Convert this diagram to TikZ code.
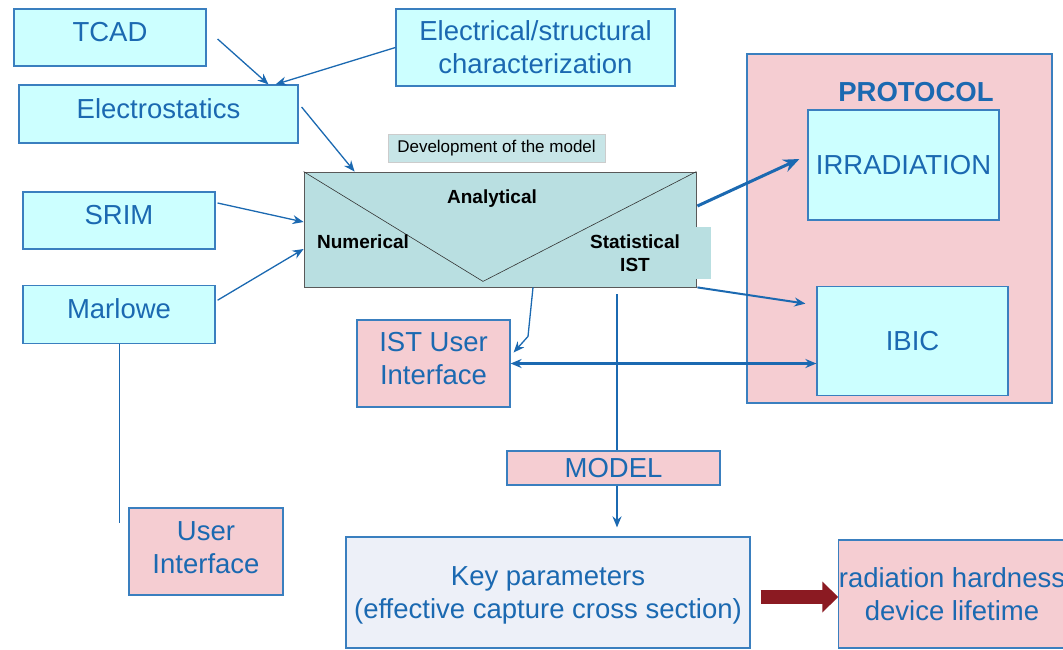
\documentclass[tikz,border=0pt]{standalone}
\usepackage{fontspec}
\setmainfont{Liberation Sans}
\usetikzlibrary{arrows,arrows.meta,positioning}

\definecolor{ink}{HTML}{1B69B1}
\definecolor{frame}{HTML}{3A7FBF}
\definecolor{cyanfill}{HTML}{CCFFFF}
\definecolor{pinkfill}{HTML}{F5CDD2}
\definecolor{tealfill}{HTML}{B9DFE1}
\definecolor{keyfill}{HTML}{EDF0F8}
\definecolor{darkred}{HTML}{8B1A22}

\begin{document}
\begin{tikzpicture}[x=1pt,y=-1pt,>={Stealth[length=11pt,width=9pt]},
    blk/.style={draw=frame,line width=1.2pt,text=ink,inner sep=0pt,align=center,
      font=\fontsize{27.5}{33}\selectfont},
    sw/.style={blk,fill=cyanfill},
    ui/.style={blk,fill=pinkfill},
    high/.style={text depth=#1},
    lbl/.style={font=\fontsize{19}{23}\selectfont\bfseries},
    flow/.style={->,draw=ink,line width=1.3pt}]

\useasboundingbox (0,0) rectangle (1063,649);

% simulation inputs
\node[sw,high=11pt,minimum width=192,minimum height=57] (tcad) at (110,37.5) {TCAD};

\node[sw,minimum width=279,minimum height=77] (charac) at (535.5,47.5) {Electrical/structural\\characterization};

\node[sw,high=10pt,minimum width=279,minimum height=58] (elstat) at (158.5,114) {Electrostatics};

\node[sw,high=11pt,minimum width=192,minimum height=57] (srim) at (119,220.5) {SRIM};

\node[sw,high=12pt,minimum width=192,minimum height=58] (marl) [below=35pt of srim] {Marlowe};

% model box
\node[draw=gray!70!black,fill=tealfill,line width=0.8pt,minimum width=392,minimum height=115,inner sep=0pt] (dev) at (500,229.5) {};
\fill[tealfill] ([yshift=2.5]dev.east) rectangle ++(15,52);
\coordinate (vtx) at ([xshift=-17,yshift=6]dev.south);
\draw[gray!40!black,line width=0.6pt] (dev.north west) -- (vtx) -- (dev.north east);

\node[lbl] (anal) at (492,199) {Analytical};
\node[lbl] (num) at (363,242) {Numerical};
\node[lbl,align=center] (stat) at (635,253.5) {Statistical\\IST};

\node[fill=tealfill!80!white,draw=gray!40,inner sep=0pt,minimum width=217,minimum height=28,
      font=\fontsize{17}{20}\selectfont] (devlbl) [above=9pt of dev,xshift=-3.5pt] {Development of the model};

% protocol
\node[draw=frame,line width=1.2pt,fill=pinkfill,minimum width=305,minimum height=349,inner sep=0pt] (proto) at (899.5,228.5) {};
\node[text=ink,font=\fontsize{27.5}{33}\selectfont\bfseries] (prottl) at (916,92) {PROTOCOL};

\node[sw,minimum width=191,minimum height=110] (irr) at (903.5,165) {IRRADIATION};

\node[sw,minimum width=191,minimum height=109] (ibic) [below=65pt of irr,xshift=9pt] {IBIC};

% outputs
\node[ui,high=10pt,minimum width=153,minimum height=87] (istui) at (433.5,363.5) {IST User\\Interface};

\node[ui,high=8pt,minimum width=154,minimum height=87] (ui) at (206,551.5) {User\\Interface};

\node[ui,minimum width=213,minimum height=34] (model) at (613.5,468) {MODEL};

\node[blk,high=-2pt,fill=keyfill,minimum width=404,minimum height=111] (keypar) at (548,592.5) {Key parameters\\(effective capture cross section)};

\node[ui,minimum width=226,minimum height=108] (hard) at (952,594) {radiation hardness\\device lifetime};

% connections
\draw[flow] ([xshift=11,yshift=-1.5]tcad.east) -- ([xshift=110]elstat.north);
\draw[flow] (charac.west) -- ([xshift=117]elstat.north);
\draw[flow] ([xshift=3,yshift=7]elstat.east) -- ([xshift=51]dev.north west);
\draw[flow] ([xshift=2,yshift=17.5]srim.east) -- ([yshift=7.5]dev.west);
\draw[flow] ([xshift=2,yshift=14]marl.east) -- ([yshift=-19.5]dev.west);
\draw[ink,line width=1pt] (marl.south) -- ++(0,179);

\draw[flow,line width=3pt,-{Stealth[length=16pt,width=13pt]}] ([xshift=1,yshift=23.5]dev.east) -- ([xshift=-8,yshift=6]irr.west);
\draw[flow,line width=2pt] ([xshift=1]dev.south east) -- ([xshift=-11,yshift=-18]ibic.north west);
\draw[flow] ([xshift=33]dev.south) -- ++(-5,49) -- ([xshift=3,yshift=11]istui.east);
\draw[<->,draw=ink,line width=2.5pt] (istui.east) -- (istui.east -| ibic.west);

\coordinate (split) at (617,294);
\draw[ink,line width=2pt] (split) -- (split |- model.north);
\draw[flow,line width=2pt,shorten >=9pt] (split |- model.south) -- (split |- keypar.north);

\draw[darkred,line width=14pt,-{Triangle[length=16pt,width=30pt]}] ([xshift=10,yshift=-4.5]keypar.east) -- ([yshift=-4.5]keypar.east -| hard.west);

\end{tikzpicture}
\end{document}
